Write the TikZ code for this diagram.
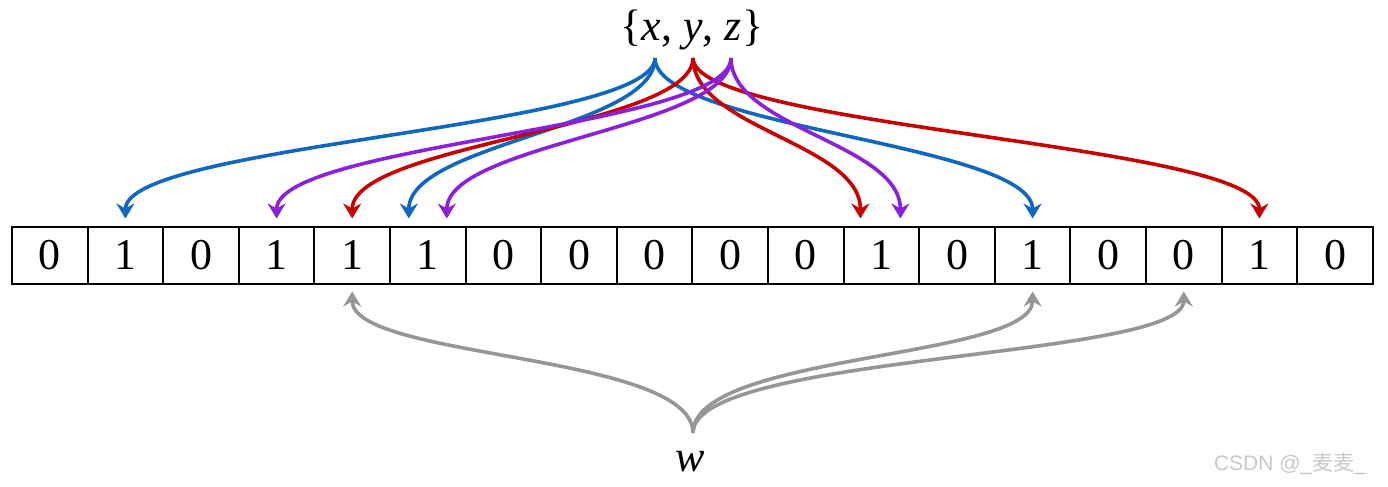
\documentclass[tikz,border=0pt]{standalone}
\usepackage{fontspec}
\setmainfont{Liberation Serif}
\newfontfamily\wmfont{Liberation Sans}
\newfontfamily\cjk{Noto Sans CJK SC}
\usetikzlibrary{arrows.meta}
\definecolor{hblue}{RGB}{16,103,194}
\definecolor{hred}{RGB}{200,0,0}
\definecolor{hpurple}{RGB}{138,32,222}
\definecolor{hgray}{RGB}{150,150,150}
\definecolor{hmark}{RGB}{200,200,200}
\begin{document}
\begin{tikzpicture}[x=0.5pt, y=-0.5pt,
  bit/.style={draw, line width=1pt, minimum width=37.8pt, minimum height=28.5pt, inner sep=0pt, font=\fontsize{22}{26}\selectfont},
  label/.style={font=\fontsize{22}{26}\selectfont},
  hash/.style={line width=1.8pt, -{Stealth[length=7.5pt, width=9pt, inset=2.5pt]}},
  ]
\useasboundingbox (0,0) rectangle (1388,487);
% the bit array
\node[bit] (bit0) at (49.8,255){0};
\node[bit] (bit1) at (125.4,255){1};
\node[bit] (bit2) at (201,255){0};
\node[bit] (bit3) at (276.6,255){1};
\node[bit] (bit4) at (352.2,255){1};
\node[bit] (bit5) at (427.8,255){1};
\node[bit] (bit6) at (503.4,255){0};
\node[bit] (bit7) at (579,255){0};
\node[bit] (bit8) at (654.6,255){0};
\node[bit] (bit9) at (730.2,255){0};
\node[bit] (bit10) at (805.8,255){0};
\node[bit] (bit11) at (881.4,255){1};
\node[bit] (bit12) at (957,255){0};
\node[bit] (bit13) at (1032.6,255){1};
\node[bit] (bit14) at (1108.2,255){0};
\node[bit] (bit15) at (1183.8,255){0};
\node[bit] (bit16) at (1259.4,255){1};
\node[bit] (bit17) at (1335,255){0};

% the keys
\node[label] (keys) at (692,30){\{\textit{x}, \textit{y}, \textit{z}\}};
\coordinate (kx) at (655,58);
\coordinate (ky) at (693,58);
\coordinate (kz) at (731,58);
\draw[hash, hblue](kx) .. controls +(0,70) and +(0,-75) .. ([yshift=3.5pt]bit1.north);
\draw[hash, hblue](kx) .. controls +(0,70) and +(0,-75) .. ([xshift=-9.5pt, yshift=3.5pt]bit5.north);
\draw[hash, hblue](kx) .. controls +(0,70) and +(0,-75) .. ([yshift=3.5pt]bit13.north);
\draw[hash, hred](ky) .. controls +(0,70) and +(0,-75) .. ([yshift=3.5pt]bit4.north);
\draw[hash, hred](ky) .. controls +(0,70) and +(0,-75) .. ([xshift=-10.5pt, yshift=3.5pt]bit11.north);
\draw[hash, hred](ky) .. controls +(0,70) and +(0,-75) .. ([yshift=3.5pt]bit16.north);
\draw[hash, hpurple](kz) .. controls +(0,70) and +(0,-75) .. ([yshift=3.5pt]bit3.north);
\draw[hash, hpurple](kz) .. controls +(0,70) and +(0,-75) .. ([xshift=9.5pt, yshift=3.5pt]bit5.north);
\draw[hash, hpurple](kz) .. controls +(0,70) and +(0,-75) .. ([xshift=9.5pt, yshift=3.5pt]bit11.north);

% the query
\node[label] (query) at (690,462){\textit{w}};
\coordinate (wtop) at (693,433);
\draw[hash, hgray](wtop) .. controls +(0,-80) and +(0,68) .. ([yshift=-3.5pt]bit4.south);
\draw[hash, hgray](wtop) .. controls +(0,-80) and +(0,68) .. ([yshift=-3.5pt]bit13.south);
\draw[hash, hgray](wtop) .. controls +(0,-80) and +(0,68) .. ([yshift=-3.5pt]bit15.south);

\node[text=hmark, font=\wmfont\fontsize{10.5}{12}\selectfont] (mark) at (1290,464){CSDN @\_{\cjk 麦麦}\_};
\end{tikzpicture}
\end{document}
